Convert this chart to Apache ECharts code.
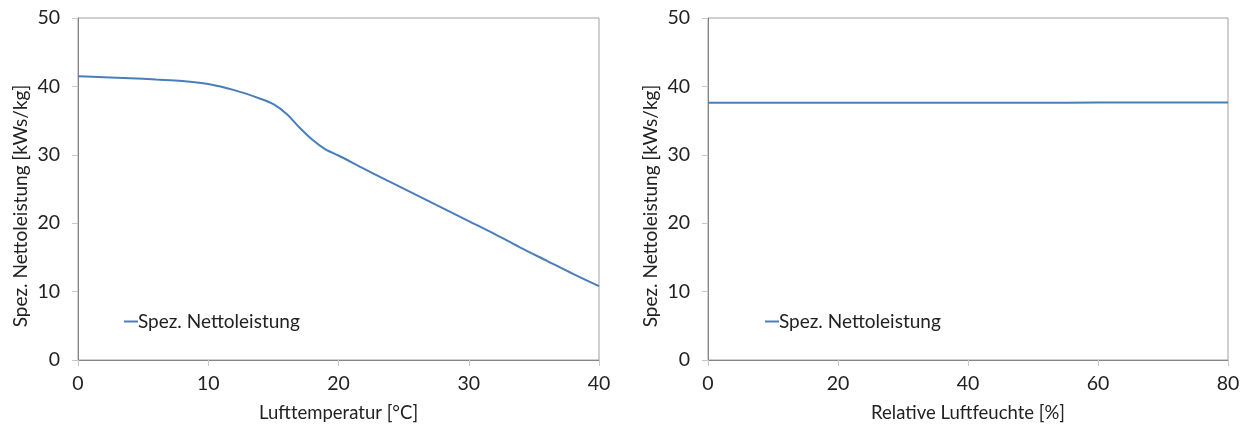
<!DOCTYPE html>
<html>
<head>
<meta charset="utf-8">
<script src="https://cdn.jsdelivr.net/npm/echarts@6/dist/echarts.min.js"></script>
<style>html,body{margin:0;padding:0;background:#fff}#c{width:1247px;height:430px}</style>
</head>
<body>
<div id="c"></div>
<script>
const seriesName = 'Spez. Nettoleistung';
const yAxisTitle = 'Spez. Nettoleistung [kWs/kg]';
const xTitleLeft = 'Lufttemperatur [°C]';
const xTitleRight = 'Relative Luftfeuchte [%]';
const tempX = [0, 2, 4, 6, 8, 10, 12, 14, 15, 16, 17, 18, 19, 20, 22, 24, 26, 28, 30, 32, 34, 36, 38, 40];
const tempY = [41.5, 41.35, 41.2, 41.0, 40.8, 40.35, 39.45, 38.2, 37.4, 36.0, 34.0, 32.2, 30.8, 29.9, 27.9, 26.0, 24.1, 22.2, 20.3, 18.4, 16.4, 14.5, 12.6, 10.8];
const humX = [0, 10, 20, 30, 40, 50, 60, 70, 80];
const humY = [37.6, 37.6, 37.6, 37.62, 37.62, 37.62, 37.63, 37.65, 37.66];

const font = 'Lato, "Open Sans", sans-serif';
const txt = '#222';
const axisCol = '#868686';

function xAxis(idx, max, interval, name) {
  return {
    type: 'value', gridIndex: idx, min: 0, max: max, interval: interval,
    name: name, nameLocation: 'middle', nameGap: 44,
    nameTextStyle: { fontFamily: font, fontSize: 18.5, color: txt },
    axisLine: { show: true, lineStyle: { color: axisCol } },
    axisTick: { show: true, length: 6, lineStyle: { color: '#c8c8c8' } },
    axisLabel: { fontFamily: font, fontSize: 19.5, color: txt, margin: 14 },
    splitLine: { show: false }
  };
}
function yAxis(idx) {
  return {
    type: 'value', gridIndex: idx, min: 0, max: 50, interval: 10,
    name: yAxisTitle, nameLocation: 'middle', nameGap: 48,
    nameTextStyle: { fontFamily: font, fontSize: 19, color: txt, padding: [0, 34, 0, 0] },
    axisLine: { show: true, lineStyle: { color: axisCol } },
    axisTick: { show: true, length: 6, lineStyle: { color: '#c8c8c8' } },
    axisLabel: { fontFamily: font, fontSize: 19.5, color: txt, margin: 18 },
    splitLine: { show: false }
  };
}
function legend(left) {
  return {
    left: left, top: 307, itemWidth: 14, itemHeight: 2, icon: 'rect',
    data: [seriesName],
    textStyle: { fontFamily: font, fontSize: 19, color: txt, padding: [0, 0, 0, -5] }
  };
}

const chart = echarts.init(document.getElementById('c'));
chart.setOption({
  animation: false,
  grid: [
    { left: 78, right: 648, top: 18, bottom: 70, show: true, borderColor: '#a0a0a0', borderWidth: 1 },
    { left: 708, right: 19, top: 18, bottom: 70, show: true, borderColor: '#a0a0a0', borderWidth: 1 }
  ],
  xAxis: [xAxis(0, 40, 10, xTitleLeft), xAxis(1, 80, 20, xTitleRight)],
  yAxis: [yAxis(0), yAxis(1)],
  legend: [legend(119), legend(760)],
  series: [
    { name: seriesName, type: 'line', xAxisIndex: 0, yAxisIndex: 0, smooth: 0.3, showSymbol: false,
      lineStyle: { color: '#4a7ebb', width: 2 }, itemStyle: { color: '#4a7ebb' },
      data: tempX.map((x, i) => [x, tempY[i]]) },
    { name: seriesName, type: 'line', xAxisIndex: 1, yAxisIndex: 1, smooth: true, showSymbol: false,
      lineStyle: { color: '#4a7ebb', width: 2 }, itemStyle: { color: '#4a7ebb' },
      data: humX.map((x, i) => [x, humY[i]]) }
  ]
});
</script>
</body>
</html>
